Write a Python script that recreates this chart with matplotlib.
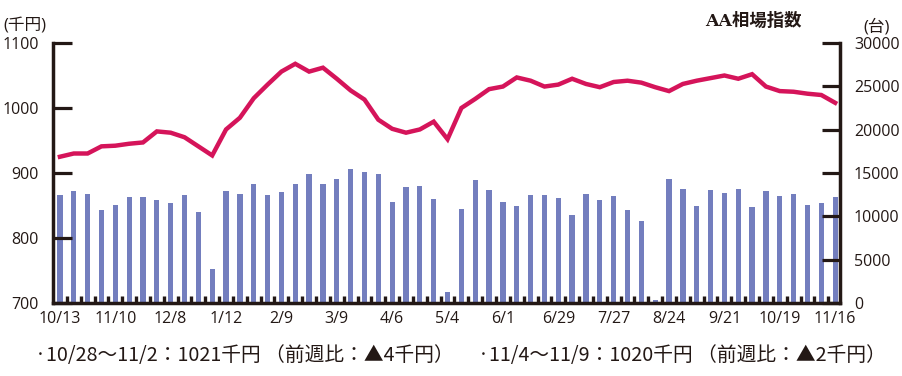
import numpy as np
import matplotlib.pyplot as plt

plt.rcParams['font.family'] = ['Open Sans', 'Noto Sans CJK JP', 'DejaVu Sans']

tick_labels = ['10/13', '11/10', '12/8', '1/12', '2/9', '3/9', '4/6', '5/4',
               '6/1', '6/29', '7/27', '8/24', '9/21', '10/19', '11/16']

# AA相場指数 (千円), weekly
price = [925, 930, 930, 941, 942, 945, 947, 964, 962, 955,
         941, 927, 967, 985, 1015, 1036, 1056, 1068, 1056, 1062,
         1045, 1027, 1013, 982, 968, 962, 967, 979, 952, 1000,
         1014, 1029, 1033, 1047, 1042, 1033, 1036, 1045, 1037, 1032,
         1040, 1042, 1039, 1032, 1026, 1037, 1042, 1046, 1050, 1045,
         1052, 1033, 1026, 1025, 1022, 1020, 1008]

# 出品台数 (台), weekly
units = [12460, 12920, 12580, 10730, 11310, 12230, 12230, 11880, 11540, 12460,
         10500, 3920, 12920, 12580, 13730, 12460, 12810, 13730, 14890, 13730,
         14310, 15460, 15120, 14890, 11650, 13380, 13500, 12000, 1300, 10850,
         14190, 13040, 11650, 11190, 12460, 12460, 12120, 10150, 12580, 11880,
         12350, 10730, 9460, 350, 14310, 13150, 11190, 13040, 12690, 13150,
         11080, 12920, 12350, 12580, 11310, 11540, 12230]

note1 = '·10/28～11/2：1021千円 （前週比：▲4千円）'
note2 = '·11/4～11/9：1020千円 （前週比：▲2千円）'

ink = '#231815'
red = '#D5145A'
blue = '#737EBE'

x = np.arange(len(price))

fig = plt.figure(figsize=(9.02, 3.76), dpi=100)
ax = fig.add_axes([53/902, 73/376, 787/902, 260/376])
ax2 = ax.twinx()
ax.set_zorder(ax2.get_zorder() + 1)
ax.patch.set_visible(False)

ax2.bar(x, units, width=0.38, color=blue)
ax.plot(x, price, color=red, lw=3.2, solid_joinstyle='miter')

ax.set_xlim(-0.5, len(price) - 0.65)
ax.set_ylim(700, 1100)
ax2.set_ylim(0, 30000)

ax.set_yticks([700, 800, 900, 1000, 1100])
ax2.set_yticks(np.arange(0, 30001, 5000))
ax.set_xticks(x[::4])
ax.set_xticklabels(tick_labels)
ax.set_xticks(x[:-1] + 0.5, minor=True)

for a in (ax, ax2):
    a.spines['top'].set_visible(False)
ax.spines['right'].set_visible(False)
ax2.spines['left'].set_visible(False)
ax2.spines['bottom'].set_visible(False)
ax.spines['left'].set_linewidth(2.5)
ax.spines['bottom'].set_linewidth(2.5)
ax2.spines['right'].set_linewidth(2.5)
for s in ('left', 'bottom'):
    ax.spines[s].set_color(ink)
ax2.spines['right'].set_color(ink)

ax.tick_params(axis='y', direction='in', length=14, width=2.3, color=ink,
               labelsize=11.5, pad=10, labelcolor=ink)
ax2.tick_params(axis='y', direction='in', length=13, width=2.3, color=ink,
                labelsize=11.5, pad=10, labelcolor=ink)
ax.tick_params(axis='x', which='major', length=0, labelsize=11.5, pad=6, labelcolor=ink)
ax.tick_params(axis='x', which='minor', direction='in', length=5, width=2.4, color=ink)

fig.text(3/902, 1 - 26/376, '(千円)', fontsize=12, color=ink, va='center', ha='left')
fig.text(890/902, 1 - 27/376, '(台)', fontsize=12, color=ink, va='center', ha='right')
fig.text(753/902, 1 - 21/376, 'AA相場指数', fontsize=12.5, fontweight='bold',
         family=['DejaVu Serif', 'Noto Sans CJK JP'], color=ink, va='center', ha='center')

fig.text(35/902, 1 - 356/376, note1, fontsize=14.2, color=ink, va='center', ha='left',
         family=['Noto Sans CJK JP', 'DejaVu Sans'])
fig.text(478/902, 1 - 356/376, note2, fontsize=14.2, color=ink, va='center', ha='left',
         family=['Noto Sans CJK JP', 'DejaVu Sans'])

fig.savefig('out.png', dpi=100)
plt.close()
